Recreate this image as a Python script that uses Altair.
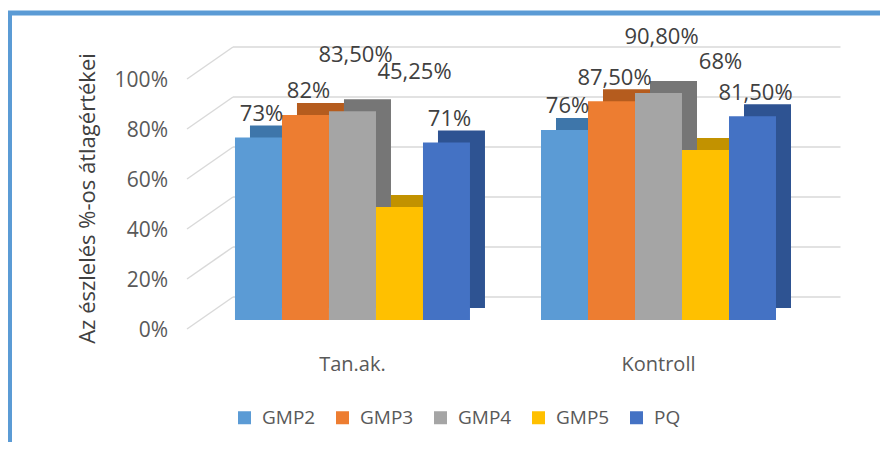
import altair as alt
import pandas as pd

# ---- data ----
groups = ["Tan.ak.", "Kontroll"]
series = ["GMP2", "GMP3", "GMP4", "GMP5", "PQ"]
tan_values = [0.73, 0.82, 0.835, 0.4525, 0.71]
kontroll_values = [0.76, 0.875, 0.908, 0.68, 0.815]
y_ticks = [0, 0.2, 0.4, 0.6, 0.8, 1.0]

# ---- styling ----
front_colors = ["#5B9BD5", "#ED7D31", "#A5A5A5", "#FFC000", "#4472C4"]
depth_colors = ["#3E76AA", "#B55C1E", "#767676", "#C29200", "#2E5392"]
# how far each data label sits above its bar (axis units), as in the original
label_lift = {"GMP2": 0.095, "GMP3": 0.095, "GMP4": 0.224, "PQ": 0.095}
gmp5_lift = {"Tan.ak.": 0.54, "Kontroll": 0.352}

FONT = "Open Sans"
TXT = "#595959"


def fmt(v):
    p = round(v * 100, 2)
    if abs(p - round(p)) < 1e-9:
        return f"{int(round(p))}%"
    return f"{p:.2f}".replace(".", ",") + "%"


rows = []
for g, vals in zip(groups, [tan_values, kontroll_values]):
    for s, v, c in zip(series, vals, depth_colors):
        lift = gmp5_lift[g] if s == "GMP5" else label_lift[s]
        rows.append({"group": g, "series": s, "value": v, "shade": c,
                     "label": fmt(v), "label_at": v + lift})
df = pd.DataFrame(rows)
ticks_df = pd.DataFrame({"tick": y_ticks})
one = pd.DataFrame({"k": [0]})

W, H = 620, 250
BAND = 235  # pixel width of one group's band
DEPTH_X, DEPTH_Y = 15, 12

x_enc = alt.X("group:N", sort=groups,
              scale=alt.Scale(paddingInner=0.232, paddingOuter=0.129),
              axis=alt.Axis(title=None, labelAngle=0, domain=False, ticks=False,
                            labelFont=FONT, labelFontSize=20, labelColor=TXT,
                            labelPadding=34))


def xoff(shift):
    return alt.XOffset("series:N", sort=series,
                       scale=alt.Scale(type="band", domain=series, paddingInner=0,
                                       paddingOuter=0, range=[shift, BAND + shift]))


# label anchors: centre of each bar's front face
xoff_lab = alt.XOffset("series:N", sort=series,
                       scale=alt.Scale(type="point", domain=series, padding=0.5,
                                       range=[0, BAND]))

y_scale = alt.Scale(domain=[0, 1], nice=False, zero=True)

# gridlines (back wall + floor slant) driven by the tick values
grid_back = alt.Chart(ticks_df).mark_rule(color="#D9D9D9", strokeWidth=1.5, yOffset=-23).encode(
    y=alt.Y("tick:Q", scale=y_scale,
            axis=alt.Axis(title="Az észlelés %-os átlagértékei", values=y_ticks, format=".0%",
                          domain=False, ticks=False, grid=False,
                          labelFont=FONT, labelFontSize=21, labelColor=TXT,
                          labelPadding=28, labelOffset=10,
                          titleFont=FONT, titleFontSize=22, titleFontWeight="normal",
                          titleColor="#404040", titleX=-108, titleY=128,
                          titleAngle=-90, titleAlign="center", titleBaseline="middle")),
    x=alt.value(37.5), x2=alt.value(645),
)
grid_slant = alt.Chart(ticks_df).mark_rule(color="#D9D9D9", strokeWidth=1.5,
                                           yOffset=9, y2Offset=-23).encode(
    y=alt.Y("tick:Q", scale=y_scale), y2="tick:Q",
    x=alt.value(-8.5), x2=alt.value(37.5),
)

depth = alt.Chart(df).mark_bar(yOffset=-DEPTH_Y, y2Offset=-DEPTH_Y).encode(
    x=x_enc, xOffset=xoff(DEPTH_X),
    y=alt.Y("value:Q", scale=y_scale),
    fill=alt.Fill("shade:N", scale=None, legend=None),
)

front = alt.Chart(df).mark_bar().encode(
    x=x_enc, xOffset=xoff(0),
    y=alt.Y("value:Q", scale=y_scale),
    color=alt.Color("series:N", sort=series,
                    scale=alt.Scale(domain=series, range=front_colors),
                    legend=alt.Legend(title=None, orient="none", direction="horizontal",
                                      legendX=39.5, legendY=338, padding=0,
                                      symbolType="square", symbolSize=169,
                                      symbolStrokeWidth=0, symbolOpacity=1,
                                      labelFont=FONT, labelFontSize=19, labelColor=TXT,
                                      labelOffset=8, columnPadding=17)),
)

labels_main = alt.Chart(df).transform_filter(alt.datum.series != "GMP5").mark_text(
    font=FONT, fontSize=22, color="#404040", baseline="middle", dx=3).encode(
    x=alt.X("group:N", sort=groups, bandPosition=0,
            scale=alt.Scale(paddingInner=0.232, paddingOuter=0.129)),
    xOffset=xoff_lab,
    y=alt.Y("label_at:Q", scale=y_scale),
    text="label:N",
)
labels_g5 = alt.Chart(df).transform_filter(alt.datum.series == "GMP5").mark_text(
    font=FONT, fontSize=22, color="#404040", baseline="middle", dx=15).encode(
    x=alt.X("group:N", sort=groups, bandPosition=0,
            scale=alt.Scale(paddingInner=0.232, paddingOuter=0.129)),
    xOffset=xoff_lab,
    y=alt.Y("label_at:Q", scale=y_scale),
    text="label:N",
)

frame_top = alt.Chart(one).mark_rule(color="#5B9BD5", strokeWidth=5).encode(
    x=alt.value(-190), x2=alt.value(720), y=alt.value(-57))
frame_left = alt.Chart(one).mark_rule(color="#5B9BD5", strokeWidth=5).encode(
    x=alt.value(-186), y=alt.value(-59), y2=alt.value(420))

chart = alt.layer(grid_back, grid_slant, depth, front, labels_main, labels_g5,
                  frame_top, frame_left).resolve_scale(xOffset="independent").properties(
    width=W, height=H,
    autosize=alt.AutoSizeParams(type="none"),
    padding={"left": 187.5, "top": 62, "right": 64.5, "bottom": 122},
    background="white",
).configure_view(stroke=None)

chart.save("out.html", embed_options={"renderer": "svg", "actions": False})
